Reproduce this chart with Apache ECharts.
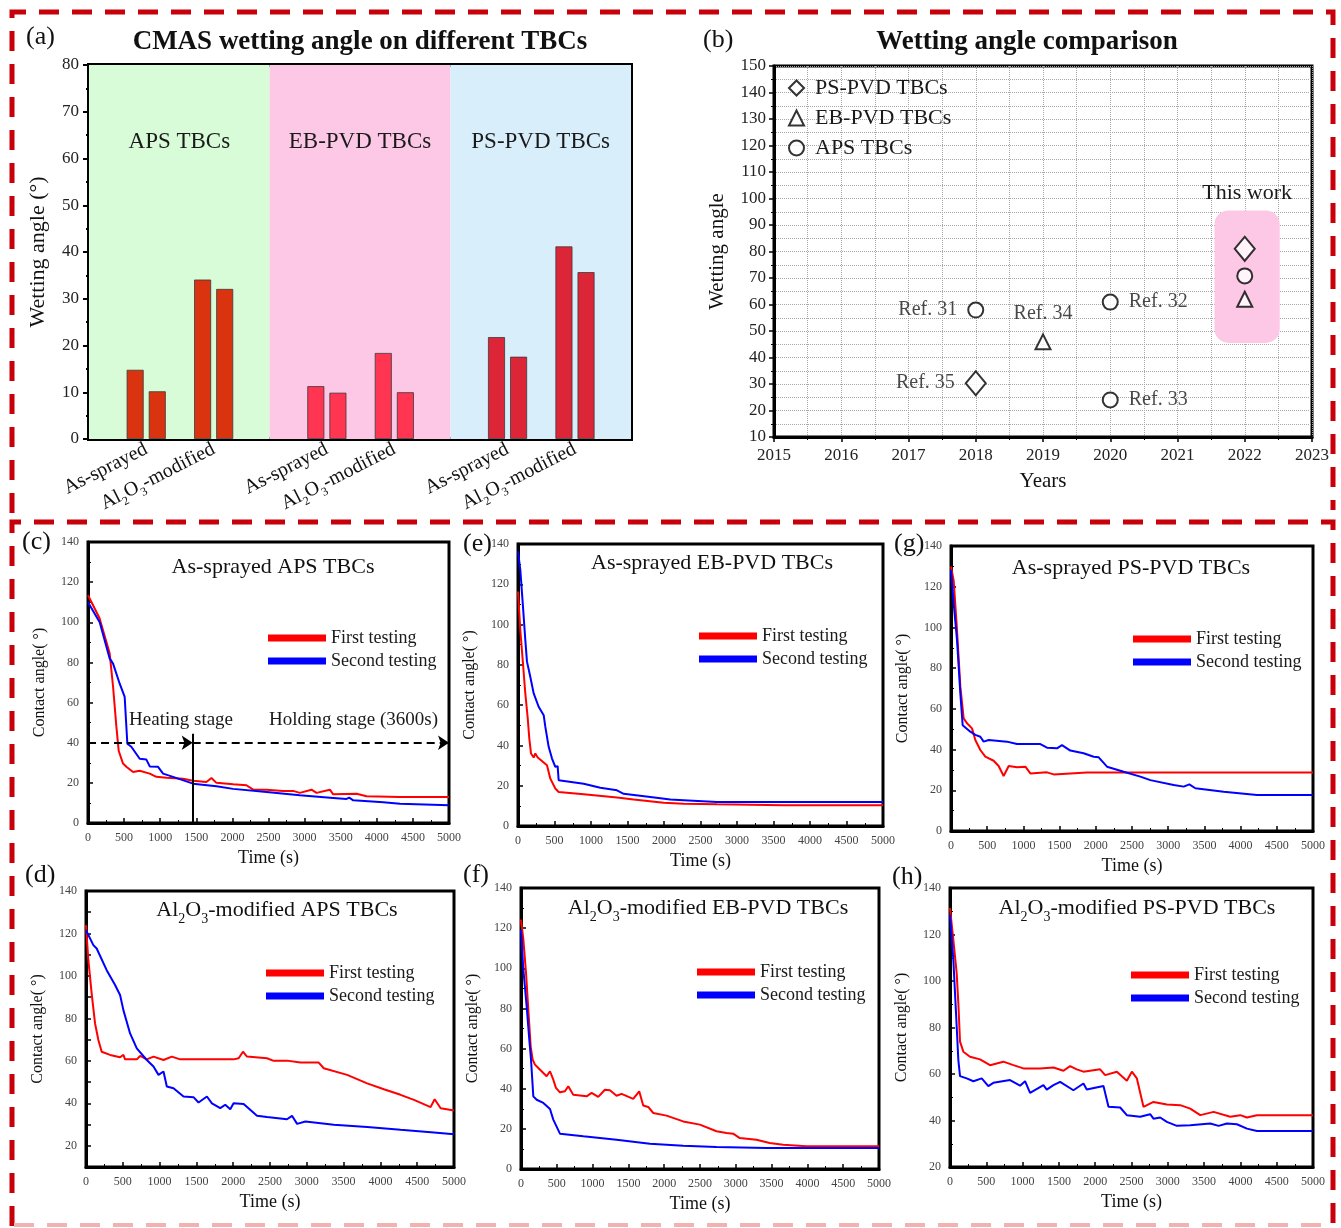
<!DOCTYPE html>
<html>
<head>
<meta charset="utf-8">
<title>CMAS wetting angle</title>
<script src="https://cdn.jsdelivr.net/npm/echarts@6.0.0/dist/echarts.min.js"></script>
<style>
  html, body { margin: 0; padding: 0; background: #fff; }
  #chart { width: 1341px; height: 1228px; }
</style>
</head>
<body>
<div id="chart"></div>
<script>
const FONT = '"Liberation Serif", "Times New Roman", serif'

// ---- (a) wetting angle bars ----
const groupNames = ['APS TBCs', 'EB-PVD TBCs', 'PS-PVD TBCs']
const barLabels = ['As-sprayed', 'Al2O3-modified', 'As-sprayed', 'Al2O3-modified', 'As-sprayed', 'Al2O3-modified']
const barPos = [0.95, 2.07, 3.95, 5.07, 6.95, 8.07]
const firstAngle = [14.8, 34.1, 11.3, 18.4, 21.8, 41.2]
const secondAngle = [10.2, 32.1, 9.9, 10.0, 17.6, 35.7]

// ---- (b) literature comparison ----
const psPvd = [[2018, 30.3], [2022, 81]]
const psPvdRef = ['Ref. 35', '']
const ebPvd = [[2019, 45.9], [2022, 62]]
const ebPvdRef = ['Ref. 34', '']
const aps = [[2018, 57.9], [2020, 60.9], [2020, 24], [2022, 70.8]]
const apsRef = ['Ref. 31', 'Ref. 32', 'Ref. 33', '']
const thisWorkBox = [2021.55, 2022.52, 45.5, 95.5] // x0, x1, y0, y1

// ---- (c)-(h) contact angle vs time [t (s), angle] ----
const cFirst = [[0,113.5],[160,102],[300,84.5],[347,68],[393,48],[425,36],[485,29.6],[531,28],[555,28.7],[624,25.4],[716,26],[855,24.6],[947,23],[1086,22.6],[1317,22],[1455,21],[1640,20.4],[1710,22.4],[1779,20],[2010,19.3],[2195,18.8],[2287,16.6],[2472,16.6],[2703,16],[2842,16],[2934,15],[3096,16.6],[3165,15],[3350,16.6],[3396,14.3],[3720,14.6],[3858,13.3],[4321,13],[5000,13]]
const cSecond = [[0,110],[162,100],[300,82],[347,79.4],[439,69.4],[508,62.8],[545,39.5],[600,38],[716,32],[809,31.6],[855,28.2],[970,28],[1040,24.6],[1178,23],[1455,19.6],[1779,18.3],[2010,17],[2472,15.4],[2934,13.8],[3396,12.5],[3581,12],[3618,12.6],[3674,11.3],[4090,10.3],[4321,9.6],[5000,8.8]]
const eFirst = [[0,116.4],[32,97],[68,80.8],[100,65.8],[132,54],[155,43.4],[178,36],[215,34],[237,36],[270,34],[397,30.2],[443,23.5],[511,18.6],[557,16.9],[900,15.8],[1356,14.1],[1584,13.1],[1995,11.6],[2269,11.1],[2726,10.8],[3639,10.3],[5000,10.3]]
const eSecond = [[0,136.3],[32,127],[68,109],[100,92.4],[123,81.6],[169,74],[215,65.8],[283,59.2],[352,55],[374,49.3],[420,39.3],[466,33.5],[511,29.4],[543,29.7],[557,22.7],[900,21],[1128,19],[1356,17.7],[1447,16],[1813,14.4],[2087,13.1],[2269,12.8],[2726,11.9],[5000,11.9]]
const gFirst = [[0,129.9],[37,123],[83,98.7],[129,70.9],[175,55.3],[221,52.9],[290,50.4],[336,44.7],[405,39.8],[474,36.5],[589,34.5],[658,31.9],[727,27],[797,31.9],[912,31.3],[1027,31.6],[1096,28.3],[1326,28.8],[1418,27.8],[1648,28.3],[1878,28.7],[5000,28.7]]
const gSecond = [[0,128.2],[37,111.8],[83,93.8],[129,67.6],[161,52],[267,48.8],[336,47.2],[405,46.3],[451,43.9],[520,44.7],[773,43.9],[912,42.7],[1234,42.7],[1326,40.9],[1464,40.6],[1533,42.2],[1648,39.5],[1832,38.2],[1971,36.5],[2040,36.2],[2155,31.6],[2385,29.1],[2615,26.7],[2753,25],[3076,22.6],[3214,21.8],[3292,22.9],[3375,21],[3766,19.3],[4227,17.7],[5000,17.7]]
const dFirst = [[0,123.9],[32,107.4],[77,91.7],[123,77.6],[168,69.8],[213,64.3],[327,62.8],[463,61.7],[508,62.8],[531,60.7],[690,60.7],[735,62.3],[826,60.7],[917,62],[1053,60.4],[1166,62],[1280,60.7],[1552,60.7],[2005,60.7],[2074,61.2],[2133,64.3],[2187,62],[2459,61.2],[2550,60],[2731,60.1],[2913,59.2],[3162,59.2],[3230,56.5],[3548,53.4],[3820,49.4],[4047,46.6],[4274,44],[4456,41.6],[4682,38.2],[4737,41.9],[4819,37.7],[5000,36.6]]
const dSecond = [[0,121.5],[100,114.5],[145,112.9],[281,102.7],[395,95.7],[463,91],[508,83.9],[599,72.9],[690,65.9],[826,60.4],[917,57.3],[985,53.4],[1053,55],[1098,47.9],[1189,47.1],[1325,43.2],[1461,42.9],[1529,40.4],[1643,43.2],[1711,40],[1824,37.7],[1892,39.3],[1960,37.2],[2005,40],[2142,39.7],[2323,34.1],[2459,33.5],[2731,32.5],[2799,34.1],[2868,30.3],[2981,31.4],[3367,29.9],[3820,28.8],[4274,27.5],[4728,26.3],[5000,25.4]]
const fFirst = [[0,124.2],[33,114.3],[70,97.7],[102,79.4],[135,61.1],[163,54.5],[195,52],[242,50.3],[312,47.8],[358,46.2],[405,48.7],[451,44.5],[488,40.4],[544,38.2],[614,38.7],[660,41.2],[730,37],[916,36.2],[986,37.9],[1079,35.9],[1172,39.5],[1242,39.2],[1335,36.5],[1405,37.4],[1567,34.9],[1651,38.7],[1707,31.6],[1777,30.9],[1847,27.9],[2033,26.6],[2265,23.7],[2498,22.1],[2730,18.8],[2870,17.9],[2963,17.6],[3056,15.4],[3288,14.6],[3474,13],[3660,12.1],[3986,11.3],[5000,11.3]]
const fSecond = [[0,119.2],[33,99.3],[79,81],[116,64.4],[140,54.5],[172,36.2],[219,34.5],[242,35.4],[312,32.9],[405,29.9],[451,24.6],[544,17.6],[870,16.3],[1335,14.6],[1800,12.6],[2265,11.6],[2730,11],[3428,10.5],[5000,10.5]]
const hFirst = [[0,131.4],[46,117.7],[92,103.4],[115,90.4],[138,73.9],[184,69.6],[276,67.4],[414,66.3],[551,63.8],[735,65.3],[873,63.8],[1011,62.4],[1241,62.4],[1425,62.8],[1563,61.4],[1654,63.4],[1746,62],[1838,61],[2068,62],[2137,59.5],[2298,61],[2436,57.1],[2505,61],[2574,58.1],[2665,45.9],[2803,48],[2987,46.9],[3171,46.6],[3309,45.1],[3447,42.3],[3631,43.7],[3860,41.6],[3998,42.3],[4090,41.3],[4228,42.3],[5000,42.3]]
const hSecond = [[0,128.5],[46,109.1],[83,86.1],[115,66],[138,59.1],[230,58.1],[322,56.9],[437,58.1],[528,54.8],[597,56.2],[827,57.4],[965,55],[1034,56.9],[1103,51.9],[1287,55.2],[1333,53.3],[1425,55.2],[1517,56.6],[1700,53],[1838,55.9],[1884,53.3],[2114,54.8],[2183,45.9],[2344,45.6],[2436,42.3],[2620,41.6],[2757,42.7],[2803,40.8],[2895,41.3],[2987,39.4],[3125,37.7],[3309,38],[3585,38.7],[3700,37.7],[3814,38.7],[3952,38.4],[4090,36.5],[4228,35.5],[5000,35.5]]

// heating / holding annotation in (c)
const heatingEnd = 1450
const stageLevel = 40

const groupColors = ['#d9340f', '#ff3552', '#dc2537']
const bandColors = ['#d8fbd8', '#fdc7e6', '#d9eefb']
const refLabelPos = { 'Ref. 31': 'left', 'Ref. 35': 'left', 'Ref. 34': 'top', 'Ref. 32': 'right', 'Ref. 33': 'right' }

// turn "Al2O3" into rich text with subscripts
const sub = (s) => s.replace(/([A-Za-z])(\d)/g, '$1{s|$2}')
const subRich = (size) => ({ s: { fontSize: size, fontFamily: FONT, verticalAlign: 'bottom', lineHeight: size * 2.3 } })

const linePanels = [
  { tag: '(c)', title: 'As-sprayed APS TBCs', first: cFirst, second: cSecond, yMin: 0,
    grid: { left: 88, top: 542, width: 361, height: 281 }, tagPos: [22, 529], titlePos: [273, 567], legendPos: [268, 636] },
  { tag: '(e)', title: 'As-sprayed EB-PVD TBCs', first: eFirst, second: eSecond, yMin: 0,
    grid: { left: 518, top: 544, width: 365, height: 282 }, tagPos: [463, 531], titlePos: [712, 563], legendPos: [699, 634] },
  { tag: '(g)', title: 'As-sprayed PS-PVD TBCs', first: gFirst, second: gSecond, yMin: 0,
    grid: { left: 951, top: 546, width: 362, height: 285 }, tagPos: [894, 531], titlePos: [1131, 568], legendPos: [1133, 637] },
  { tag: '(d)', title: 'Al2O3-modified APS TBCs', first: dFirst, second: dSecond, yMin: 10,
    grid: { left: 86, top: 891, width: 368, height: 276 }, tagPos: [25, 862], titlePos: [277, 910], legendPos: [266, 971] },
  { tag: '(f)', title: 'Al2O3-modified EB-PVD TBCs', first: fFirst, second: fSecond, yMin: 0,
    grid: { left: 521, top: 888, width: 358, height: 281 }, tagPos: [463, 862], titlePos: [708, 908], legendPos: [697, 970] },
  { tag: '(h)', title: 'Al2O3-modified PS-PVD TBCs', first: hFirst, second: hSecond, yMin: 20,
    grid: { left: 950, top: 888, width: 363, height: 279 }, tagPos: [892, 864], titlePos: [1137, 908], legendPos: [1131, 973] },
]

const chart = echarts.init(document.getElementById('chart'))

const frame = { show: true, borderColor: '#000', borderWidth: 3, backgroundColor: 'transparent' }
const grids = [
  { left: 89, top: 65, width: 542, height: 374, ...frame, borderWidth: 4 },
  { left: 774, top: 66, width: 538, height: 371, ...frame },
  ...linePanels.map((p) => ({ ...p.grid, ...frame })),
]

const axisLineBlack = (w) => ({ show: true, onZero: false, lineStyle: { color: '#000', width: w } })

const xAxes = [
  {
    type: 'value', gridIndex: 0, min: 0, max: 9,
    axisLine: axisLineBlack(4), axisTick: { show: false }, splitLine: { show: false },
    axisLabel: {
      customValues: barPos, rotate: 27, margin: 9, fontSize: 20, color: '#111', fontFamily: FONT,
      formatter: (v) => {
        const i = barPos.findIndex((p) => Math.abs(p - v) < 1e-6)
        return i < 0 ? '' : sub(barLabels[i])
      },
      rich: subRich(12),
    },
  },
  {
    type: 'value', gridIndex: 1, min: 2015, max: 2023, interval: 1,
    name: 'Years', nameLocation: 'middle', nameGap: 34,
    nameTextStyle: { fontSize: 21, color: '#111', fontFamily: FONT },
    axisLine: axisLineBlack(3), axisTick: { length: 5, lineStyle: { color: '#000', width: 1.5 } },
    minorTick: { show: true, splitNumber: 2, length: 3, lineStyle: { color: '#000' } },
    splitLine: { show: true, lineStyle: { color: '#a8a8a8', type: 'dotted' } },
    minorSplitLine: { show: true, lineStyle: { color: '#a8a8a8', type: 'dotted' } },
    axisLabel: { fontSize: 17, color: '#222', fontFamily: FONT, margin: 10, formatter: (v) => String(v) },
  },
  ...linePanels.map((p, k) => ({
    type: 'value', gridIndex: k + 2, min: 0, max: 5000, interval: 500,
    name: 'Time (s)', nameLocation: 'middle', nameGap: 26,
    nameTextStyle: { fontSize: 18, color: '#111', fontFamily: FONT },
    axisLine: axisLineBlack(3),
    axisTick: { inside: true, length: 5, lineStyle: { color: '#000', width: 1.5 } },
    minorTick: { show: true, splitNumber: 2, length: 3, lineStyle: { color: '#000' } },
    splitLine: { show: false },
    axisLabel: { fontSize: 12, color: '#444', fontFamily: FONT, margin: 9, formatter: (v) => String(v) },
  })),
]

const yAxes = [
  {
    type: 'value', gridIndex: 0, min: 0, max: 80, interval: 10,
    name: 'Wetting angle (°)', nameLocation: 'middle', nameGap: 40, nameRotate: 90,
    nameTextStyle: { fontSize: 22, color: '#111', fontFamily: FONT },
    axisLine: axisLineBlack(4), axisTick: { length: 6, lineStyle: { color: '#000', width: 2 } },
    minorTick: { show: true, splitNumber: 2, length: 3, lineStyle: { color: '#000', width: 2 } },
    splitLine: { show: false },
    axisLabel: { fontSize: 17, color: '#222', fontFamily: FONT, margin: 10 },
  },
  {
    type: 'value', gridIndex: 1, min: 10, max: 150, interval: 10,
    name: 'Wetting angle', nameLocation: 'middle', nameGap: 46, nameRotate: 90,
    nameTextStyle: { fontSize: 21, color: '#111', fontFamily: FONT },
    axisLine: axisLineBlack(3), axisTick: { length: 5, lineStyle: { color: '#000', width: 1.5 } },
    minorTick: { show: true, splitNumber: 2, length: 3, lineStyle: { color: '#000' } },
    splitLine: { show: true, lineStyle: { color: '#a8a8a8', type: 'dotted' } },
    minorSplitLine: { show: true, lineStyle: { color: '#a8a8a8', type: 'dotted' } },
    axisLabel: { fontSize: 17, color: '#222', fontFamily: FONT, margin: 8 },
  },
  ...linePanels.map((p, k) => ({
    type: 'value', gridIndex: k + 2, min: p.yMin, max: 140, interval: p.yMin % 20 === 0 ? 20 : 10,
    name: 'Contact angle( °)', nameLocation: 'middle', nameGap: 40, nameRotate: 90,
    nameTextStyle: { fontSize: 16, color: '#111', fontFamily: FONT },
    axisLine: axisLineBlack(3),
    axisTick: { inside: true, length: 5, lineStyle: { color: '#000', width: 1.5 } },
    minorTick: { show: p.yMin % 20 === 0, splitNumber: 2, length: 3, lineStyle: { color: '#000' } },
    splitLine: { show: false },
    axisLabel: { fontSize: 12, color: '#444', fontFamily: FONT, margin: 9,
      formatter: (v) => (v % 20 === 0 ? String(v) : '') },
  })),
]

const series = []

// (a) background bands with group names
series.push({
  type: 'line', xAxisIndex: 0, yAxisIndex: 0, data: [], z: 1, silent: true,
  markArea: {
    silent: true,
    label: { show: true, position: 'insideTop', distance: 65, fontSize: 23, color: '#1a1a1a', fontFamily: FONT },
    data: groupNames.map((g, i) => [
      { name: g, xAxis: i * 3, itemStyle: { color: bandColors[i] } },
      { xAxis: i * 3 + 3 },
    ]),
  },
})
;[firstAngle, secondAngle].forEach((vals, s) => {
  series.push({
    type: 'bar', name: s === 0 ? 'bar-first' : 'bar-second', xAxisIndex: 0, yAxisIndex: 0,
    barWidth: 17, barGap: '30%', z: 3,
    itemStyle: { borderColor: '#3a3a3a', borderWidth: 0.8 },
    data: vals.map((v, i) => ({ value: [barPos[i], v], itemStyle: { color: groupColors[Math.floor(i / 2)] } })),
  })
})

// (b) rounded "This work" box
series.push({
  type: 'custom', xAxisIndex: 1, yAxisIndex: 1, z: 1, silent: true,
  data: [thisWorkBox],
  encode: { x: [0, 1], y: [2, 3] },
  renderItem: (params, api) => {
    const tl = api.coord([api.value(0), api.value(3)])
    const br = api.coord([api.value(1), api.value(2)])
    return {
      type: 'rect',
      shape: { x: tl[0], y: tl[1], width: br[0] - tl[0], height: br[1] - tl[1], r: 14 },
      style: { fill: '#fdc8e6' },
      textContent: { style: { text: 'This work', fontSize: 22, fontFamily: FONT, fill: '#1a1a1a' } },
      textConfig: { position: 'top', distance: 6 },
    }
  },
})

const scatterSeries = (name, symbol, size, pts, refs) => ({
  name, type: 'scatter', xAxisIndex: 1, yAxisIndex: 1, z: 3,
  symbol, symbolSize: size,
  itemStyle: { color: '#000', borderWidth: 1.3 },
  label: { fontSize: 20, color: '#1a1a1a', fontFamily: FONT, distance: 10 },
  data: pts.map((p, i) => ({
    value: p, name: refs[i],
    label: { show: refs[i] !== '', position: refLabelPos[refs[i]] || 'right', formatter: '{b}' },
  })),
})
series.push(scatterSeries('PS-PVD TBCs', 'emptyDiamond', [20, 24], psPvd, psPvdRef))
series.push(scatterSeries('EB-PVD TBCs', 'emptyTriangle', 15, ebPvd, ebPvdRef))
series.push(scatterSeries('APS TBCs', 'emptyCircle', 15, aps, apsRef))

// (c)-(h) contact angle curves
linePanels.forEach((p, k) => {
  const base = { type: 'line', xAxisIndex: k + 2, yAxisIndex: k + 2, showSymbol: false, symbol: 'none', z: 3 }
  const first = { ...base, name: 'First testing', data: p.first, lineStyle: { color: '#ff0000', width: 2 }, itemStyle: { color: '#ff0000' } }
  const second = { ...base, name: 'Second testing', data: p.second, lineStyle: { color: '#0000ff', width: 2 }, itemStyle: { color: '#0000ff' } }
  if (k === 0) {
    first.markLine = {
      silent: true, symbol: ['none', 'arrow'], symbolSize: 11,
      label: { show: false },
      lineStyle: { color: '#000', width: 2, type: [8, 5] },
      data: [
        [{ coord: [0, stageLevel] }, { coord: [heatingEnd, stageLevel] }],
        [{ coord: [heatingEnd, stageLevel] }, { coord: [5000, stageLevel] }],
        [{ coord: [heatingEnd, 0], symbol: 'none', lineStyle: { type: 'solid', width: 2 } }, { coord: [heatingEnd, 44.5], symbol: 'none' }],
      ],
    }
    first.markPoint = {
      silent: true, symbol: 'circle', symbolSize: 1, itemStyle: { color: 'rgba(0,0,0,0)' },
      label: { show: true, position: 'inside', formatter: '{b}', fontSize: 19, color: '#1a1a1a', fontFamily: FONT },
      data: [
        { name: 'Heating stage', coord: [1289, 51.2] },
        { name: 'Holding stage (3600s)', coord: [3678, 51.2] },
      ],
    }
  }
  series.push(first, second)
})

const titles = [
  { text: '(a)', left: 26, top: 37 },
  { text: 'CMAS wetting angle on different TBCs', left: 360, top: 42, bold: true },
  { text: '(b)', left: 703, top: 40 },
  { text: 'Wetting angle comparison', left: 1027, top: 42, bold: true },
].map((t) => ({
  text: t.text, left: t.left, top: t.top, padding: 0,
  textAlign: t.bold ? 'center' : 'left', textVerticalAlign: 'middle',
  textStyle: { fontSize: t.bold ? 27 : 26, fontWeight: t.bold ? 'bold' : 'normal', color: '#111', fontFamily: FONT },
}))
linePanels.forEach((p) => {
  titles.push({
    text: p.tag, left: p.tagPos[0], top: p.tagPos[1] + 13, padding: 0, textVerticalAlign: 'middle',
    textStyle: { fontSize: 26, fontWeight: 'normal', color: '#111', fontFamily: FONT },
  })
  titles.push({
    text: sub(p.title), left: p.titlePos[0], top: p.titlePos[1], padding: 0,
    textAlign: 'center', textVerticalAlign: 'middle',
    textStyle: { fontSize: 22, fontWeight: 'normal', color: '#111', fontFamily: FONT, rich: subRich(14) },
  })
})

const legends = [
  {
    data: ['PS-PVD TBCs', 'EB-PVD TBCs', 'APS TBCs'], orient: 'vertical', left: 788, top: 77,
    itemWidth: 15, itemHeight: 15, itemGap: 8, padding: 0, selectedMode: false,
    textStyle: { fontSize: 22, color: '#1a1a1a', fontFamily: FONT, padding: [0, 0, 0, 6] },
  },
  ...linePanels.map((p) => ({
    data: ['First testing', 'Second testing'], orient: 'vertical', left: p.legendPos[0], top: p.legendPos[1] - 7,
    icon: 'rect', itemWidth: 58, itemHeight: 7, itemGap: 5, padding: 0, selectedMode: false,
    textStyle: { fontSize: 18, color: '#1a1a1a', fontFamily: FONT },
  })),
]

const dash = { stroke: '#c8000a', lineWidth: 5, lineDash: [20, 13], fill: null }

chart.setOption({
  animation: false,
  backgroundColor: '#fff',
  textStyle: { fontFamily: FONT },
  title: titles,
  legend: legends,
  grid: grids,
  xAxis: xAxes,
  yAxis: yAxes,
  series,
  graphic: [
    { type: 'polyline', silent: true, shape: { points: [[12, 513], [12, 12], [1333, 12], [1333, 510]] }, style: dash },
    { type: 'polyline', silent: true, shape: { points: [[12, 1226], [12, 522], [1333, 522], [1333, 1226]] }, style: dash },
    { type: 'line', silent: true, shape: { x1: 14, y1: 1225, x2: 1331, y2: 1225 }, style: { stroke: '#f3b2b2', lineWidth: 4, lineDash: [20, 13] } },
  ],
})

window.addEventListener('resize', () => chart.resize())
</script>
</body>
</html>
